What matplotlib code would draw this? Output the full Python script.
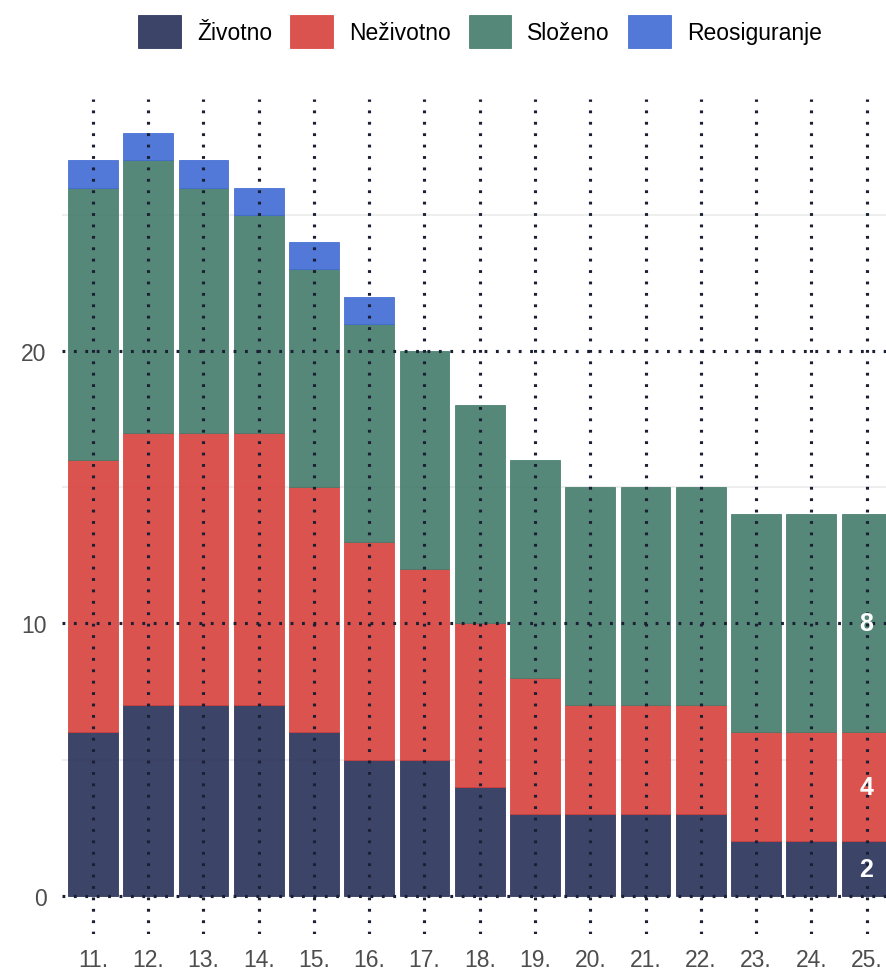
import matplotlib
matplotlib.use("Agg")
import matplotlib.pyplot as plt
import numpy as np

plt.rcParams['font.family'] = ['Liberation Sans', 'DejaVu Sans']

# podaci
periods = ["11.", "12.", "13.", "14.", "15.", "16.", "17.", "18.", "19.", "20.", "21.", "22.", "23.", "24.", "25."]
zivotno = [6, 7, 7, 7, 6, 5, 5, 4, 3, 3, 3, 3, 2, 2, 2]
nezivotno = [10, 10, 10, 10, 9, 8, 7, 6, 5, 4, 4, 4, 4, 4, 4]
slozeno = [10, 10, 9, 8, 8, 8, 8, 8, 8, 8, 8, 8, 8, 8, 8]
reosiguranje = [1, 1, 1, 1, 1, 1, 0, 0, 0, 0, 0, 0, 0, 0, 0]

series = [
    ("Životno", zivotno, "#272f57"),
    ("Neživotno", nezivotno, "#d8403c"),
    ("Složeno", slozeno, "#437b6b"),
    ("Reosiguranje", reosiguranje, "#3f69d4"),
]

fig = plt.figure(figsize=(8.87, 9.7), dpi=100)
ax = fig.add_axes([62 / 887, 35 / 970, 1 - 62 / 887, (935 - 100) / 970])

x = np.arange(len(periods))
bottom = np.zeros(len(periods))
handles = []
for name, vals, col in series:
    vals = np.array(vals, dtype=float)
    lw = np.where(vals > 0, 0.6, 0.0)
    b = ax.bar(x, vals, 0.9, bottom=bottom, color=col, alpha=0.9,
               edgecolor=col, linewidth=lw, label=name, zorder=3)
    handles.append(b)
    bottom += vals

# oznake na zadnjem stupcu
last = len(periods) - 1
base = 0
for name, vals, col in series[:3]:
    v = vals[last]
    ax.text(x[last], base + v / 2, str(v), color="white", fontsize=18,
            fontweight="bold", ha="center", va="center", zorder=5)
    base += v

# mreža
dot = (0, (0.9, 2.75))
for xi in x:
    ax.axvline(xi, color="#1a1f33", linestyle=dot, linewidth=2.25, zorder=4)
for yv in [0, 10, 20]:
    ax.axhline(yv, color="#1a1f33", linestyle=dot, linewidth=2.25, zorder=4)
for yv in [5, 15, 25]:
    ax.axhline(yv, color="#ebebeb", linewidth=1.2, zorder=1)

ax.set_xlim(-0.56, 14.37)
ax.set_ylim(-1.4, 29.25)
ax.set_xticks(x)
ax.set_xticklabels(periods)
ax.set_yticks([0, 10, 20])
ax.tick_params(axis="both", length=0, labelsize=16.5, labelcolor="#4d4d4d")
ax.tick_params(axis="x", pad=10)
ax.tick_params(axis="y", pad=11)
for s in ax.spines.values():
    s.set_visible(False)

leg = fig.legend(handles=handles, labels=[s[0] for s in series],
                 loc="upper center", bbox_to_anchor=(480 / 887, 1.0),
                 ncol=4, frameon=False, fontsize=16.5,
                 handlelength=1.85, handleheight=1.85,
                 handletextpad=0.7, columnspacing=0.8, borderaxespad=0.3)

fig.savefig("out.png", dpi=100)
